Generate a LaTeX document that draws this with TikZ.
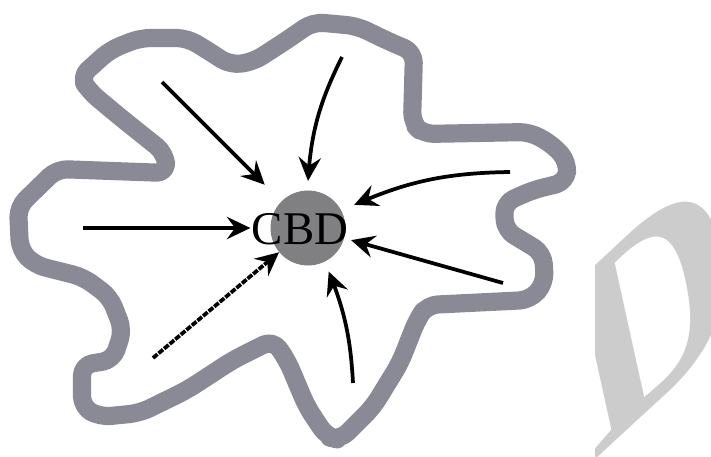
\documentclass[tikz,border=0pt]{standalone}
\usepackage{fontspec}
\setmainfont{Liberation Serif}
\usetikzlibrary{arrows.meta,bending}
\definecolor{rimgray}{RGB}{138,138,150}
\definecolor{cbdgray}{RGB}{128,128,130}
\definecolor{markgray}{RGB}{204,204,204}

\begin{document}
\begin{tikzpicture}[>={Stealth[length=20pt,width=19pt,inset=7pt]}, x=0.03cm, y=-0.03cm,
        rim/.style={draw=rimgray, line width=15.5pt, line join=round, rounded corners=9pt},
        flow/.style={->, line width=3.2pt, shorten >=#1}]
        \useasboundingbox (0,0) rectangle (711,457);
        % watermark
        \begin{scope}
            \clip (595,0) rectangle (711,457);
            \node [markgray, inner sep=0pt, cm={0.86,0.80,-0.215,0.977,(0,0)}] (wmark) at (653,309)
                {\fontsize{215}{215}\selectfont\bfseries D};
        \end{scope}
        % city edge
        \draw [rim] (80,77) -- (110,50) -- (140,38) -- (187,38) -- (207,50) -- (230,65)
            -- (253,62) -- (287,40) -- (313,22) -- (357,26) -- (390,42) -- (414,52)
            -- (412,123) -- (423,134) -- (530,132) -- (553,145) -- (568,162) -- (566,182)
            -- (533,190) -- (504,203) -- (505,230) -- (543,253) -- (545,283) -- (530,300)
            -- (427,305) -- (417,320) -- (400,363) -- (373,407) -- (340,440) -- (327,437)
            -- (307,407) -- (287,360) -- (273,340) -- (233,360) -- (187,390) -- (140,413)
            -- (100,417) -- (82,407) -- (82,365) -- (113,360) -- (123,330) -- (110,297)
            -- (83,277) -- (35,265) -- (20,250) -- (18,207) -- (57,169) -- (167,173)
            -- (165,153) -- (140,133) -- (120,117) -- (90,92) -- cycle;
        % centre
        \node [circle, fill=cbdgray, inner sep=0pt, minimum size=2.25cm] (cbd) at (308,228) {};
        \node (cbdtext) at (300,229) {\fontsize{40}{44}\selectfont CBD};
        % flows
        \coordinate (nw) at (162,82);
        \coordinate (n) at (342,57);
        \coordinate (ne) at (510,172);
        \coordinate (w) at (83,228);
        \coordinate (sw) at (153,358);
        \coordinate (s) at (353,383);
        \coordinate (se) at (503,283);
        \draw [flow=20pt] (nw) -- (cbd);
        \draw [flow=8pt] (n) to [bend right=12] (cbd);
        \draw [flow=12pt] (ne) to [bend right=12] (cbd);
        \draw [flow=17pt] (w) -- (cbd);
        \draw [flow=0pt, dash pattern=on 5pt off 1.2pt] (sw) -- (cbd);
        \draw [flow=9pt] (s) to [bend right=10] (cbd);
        \draw [flow=6pt] (se) -- (cbd);
\end{tikzpicture}
\end{document}
